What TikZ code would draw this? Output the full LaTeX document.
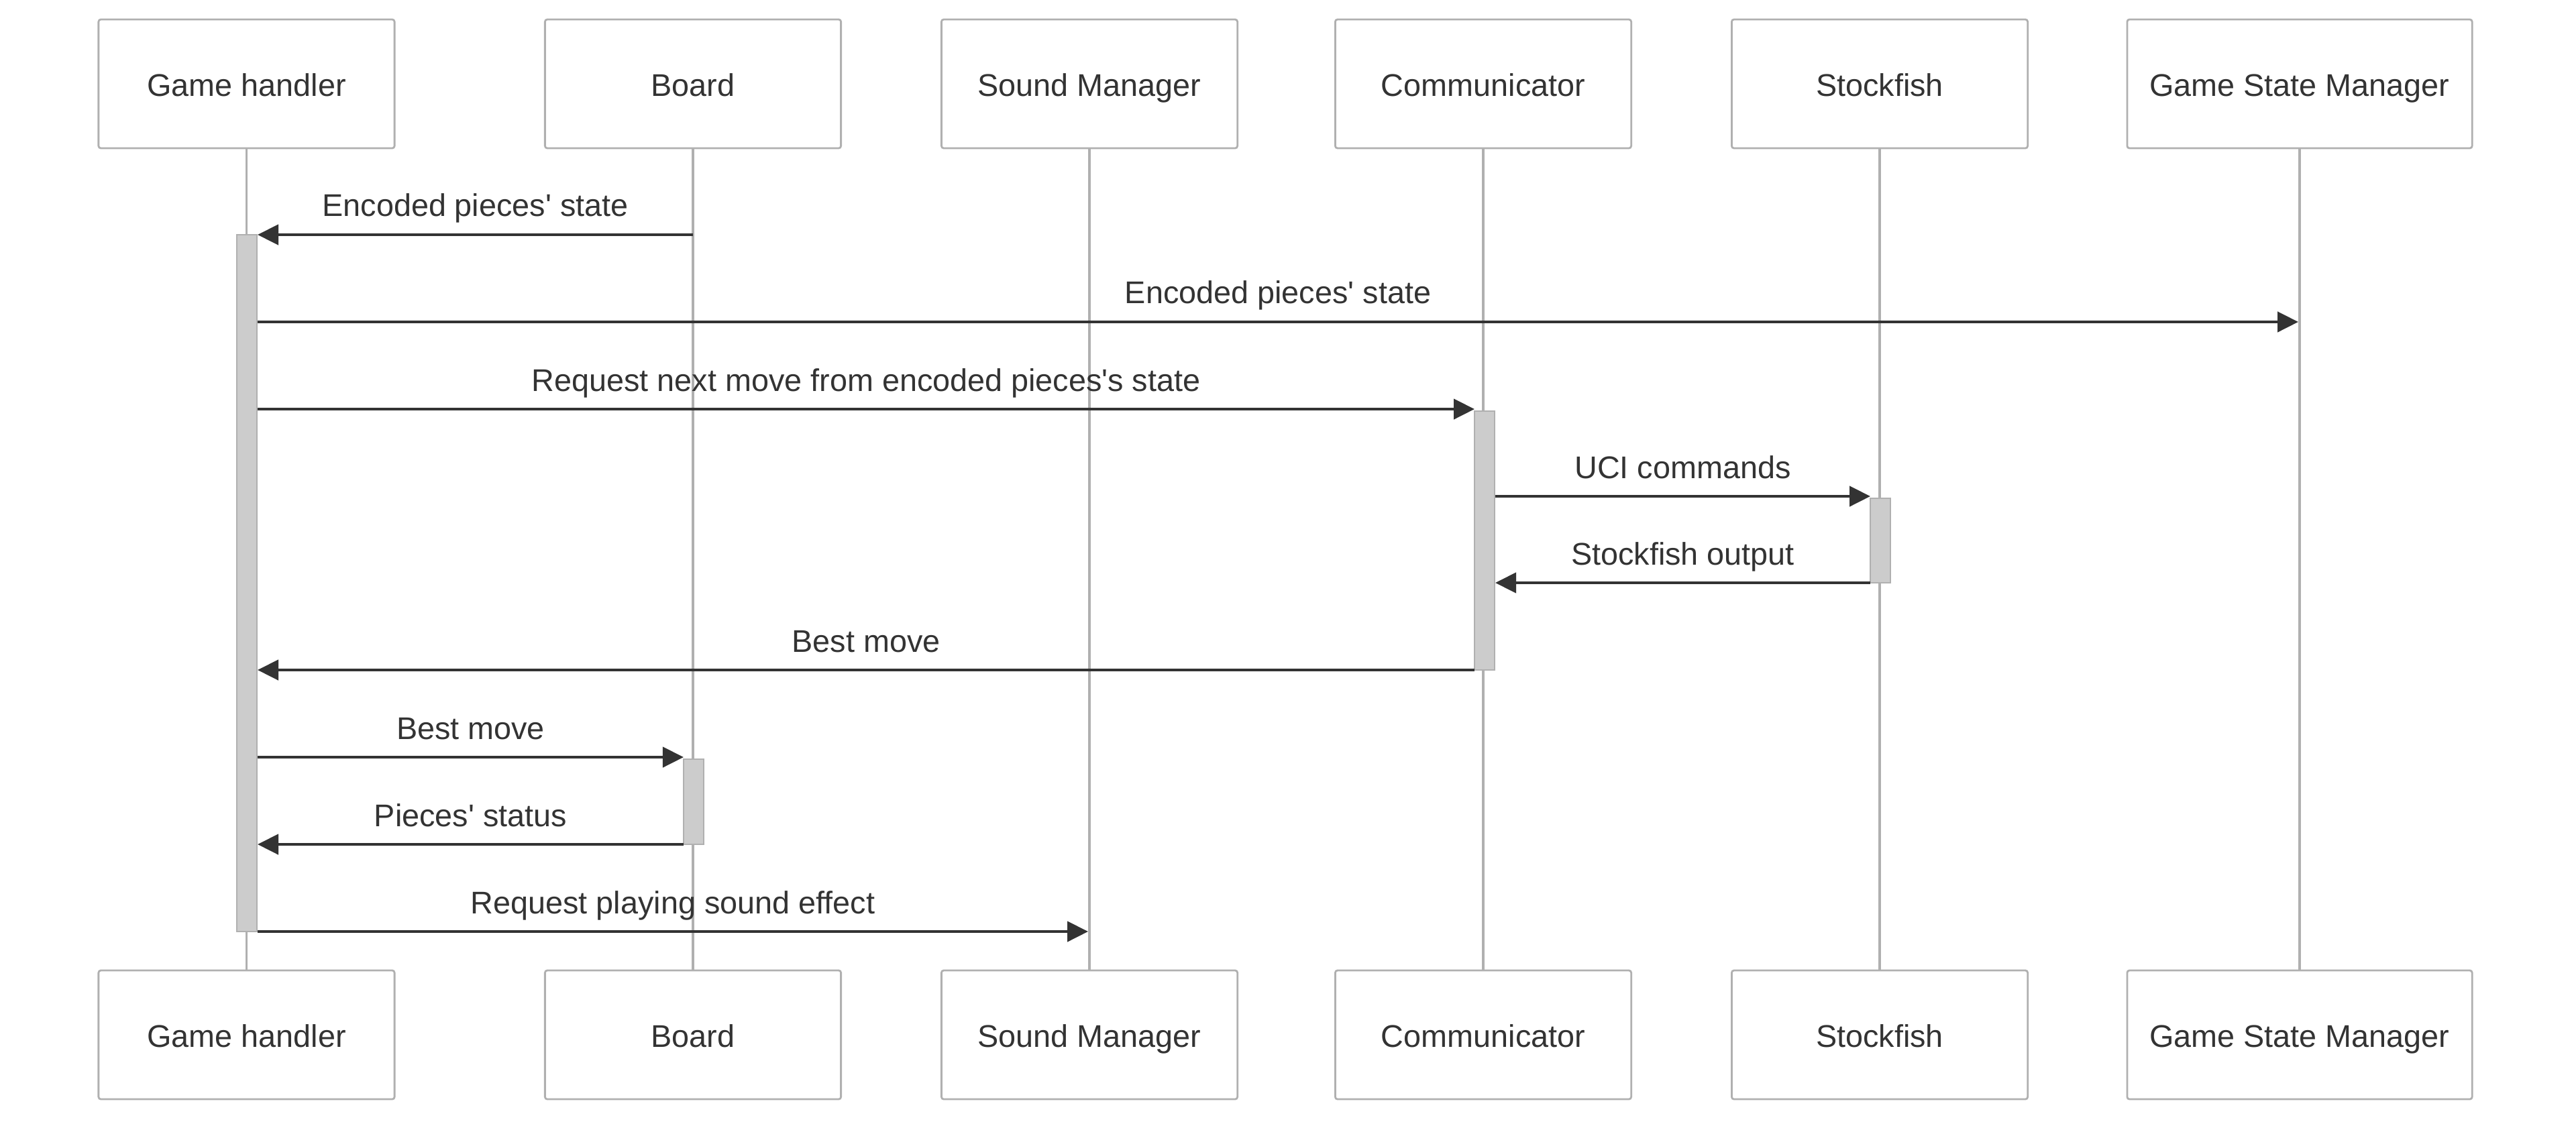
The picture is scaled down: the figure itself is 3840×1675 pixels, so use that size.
\documentclass[tikz,border=0pt]{standalone}
\usepackage{fontspec}
\setmainfont{Liberation Sans}
\usetikzlibrary{arrows.meta}
\definecolor{linegray}{RGB}{176,176,176}
\definecolor{barfill}{RGB}{204,204,204}
\definecolor{ink}{RGB}{51,51,51}
\newcommand{\sq}{\textquotesingle}
\begin{document}
\begin{tikzpicture}[x=0.01cm,y=-0.01cm,
  actor/.style={draw=linegray, line width=0.028cm, fill=white, rounded corners=0.035cm,
    minimum height=1.92cm, inner sep=0pt},
  actlbl/.style={anchor=base, text=ink, font=\fontsize{13.3}{16}\selectfont, inner sep=0pt},
  life/.style={draw=linegray, line width=0.035cm},
  actbar/.style={draw=linegray, line width=0.025cm, fill=barfill},
  msg/.style={draw=ink, line width=0.045cm, -{Triangle[length=0.31cm,width=0.30cm]}},
  lbl/.style={midway, anchor=base, yshift=0.27cm, text=ink, font=\fontsize{13.3}{16}\selectfont, inner sep=0pt}
]
\useasboundingbox (0,0) rectangle (3840,1675);

% top actors
\node[actor, minimum width=4.41cm] (gh)  at (367.5,125) {};
\node[actor, minimum width=4.41cm] (bd)  at (1033,125) {};
\node[actor, minimum width=4.41cm] (sm)  at (1624,125) {};
\node[actor, minimum width=4.41cm] (cm)  at (2211,125) {};
\node[actor, minimum width=4.41cm] (sf)  at (2802,125) {};
\node[actor, minimum width=5.14cm] (gsm) at (3428,125) {};
% bottom actors
\node[actor, minimum width=4.41cm] (ghb)  at (367.5,1543) {};
\node[actor, minimum width=4.41cm] (bdb)  at (1033,1543) {};
\node[actor, minimum width=4.41cm] (smb)  at (1624,1543) {};
\node[actor, minimum width=4.41cm] (cmb)  at (2211,1543) {};
\node[actor, minimum width=4.41cm] (sfb)  at (2802,1543) {};
\node[actor, minimum width=5.14cm] (gsmb) at (3428,1543) {};

% actor labels
\foreach \n/\t in {gh/Game handler, bd/Board, sm/Sound Manager, cm/Communicator, sf/Stockfish, gsm/Game State Manager}{
  \node[actlbl] at ([yshift=-0.18cm]\n.center) {\t};
  \node[actlbl] at ([yshift=-0.18cm]\n b.center) {\t};
}

% lifelines
\foreach \n in {gh,bd,sm,cm,sf,gsm}{
  \draw[life] (\n.south) -- (\n b.north);
}

% activation bars
\draw[actbar] (353,350) rectangle (383,1389);
\draw[actbar] (2198,613) rectangle (2228,999);
\draw[actbar] (2788,743) rectangle (2818,869);
\draw[actbar] (1019,1132) rectangle (1049,1259);

% message end points
\coordinate (m1s) at (1033,350);  \coordinate (m1e) at (384,350);
\coordinate (m2s) at (384,480);   \coordinate (m2e) at (3426,480);
\coordinate (m3s) at (384,610);   \coordinate (m3e) at (2198,610);
\coordinate (m4s) at (2229,740);  \coordinate (m4e) at (2788,740);
\coordinate (m5s) at (2788,869);  \coordinate (m5e) at (2229,869);
\coordinate (m6s) at (2198,999);  \coordinate (m6e) at (384,999);
\coordinate (m7s) at (384,1129);  \coordinate (m7e) at (1019,1129);
\coordinate (m8s) at (1019,1259); \coordinate (m8e) at (384,1259);
\coordinate (m9s) at (384,1389);  \coordinate (m9e) at (1622,1389);

% messages
\draw[msg] (m1s) -- node[lbl]{Encoded pieces\sq{} state} (m1e);
\draw[msg] (m2s) -- node[lbl]{Encoded pieces\sq{} state} (m2e);
\draw[msg] (m3s) -- node[lbl]{Request next move from encoded pieces\sq{}s state} (m3e);
\draw[msg] (m4s) -- node[lbl]{UCI commands} (m4e);
\draw[msg] (m5s) -- node[lbl]{Stockfish output} (m5e);
\draw[msg] (m6s) -- node[lbl]{Best move} (m6e);
\draw[msg] (m7s) -- node[lbl]{Best move} (m7e);
\draw[msg] (m8s) -- node[lbl]{Pieces\sq{} status} (m8e);
\draw[msg] (m9s) -- node[lbl]{Request playing sound effect} (m9e);
\end{tikzpicture}
\end{document}
